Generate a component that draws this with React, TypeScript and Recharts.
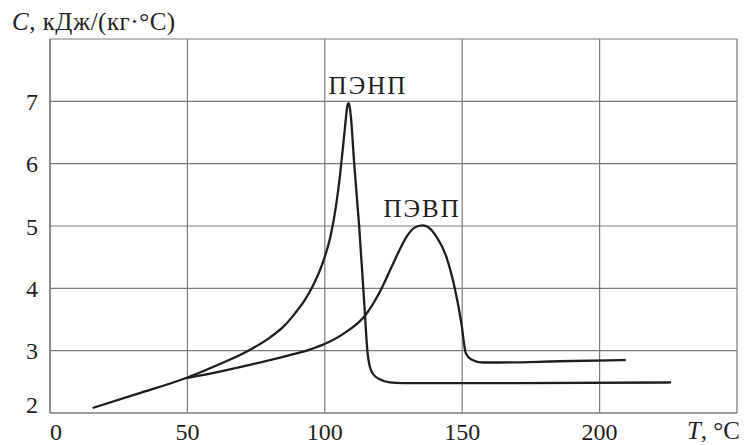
import React from 'react';
import { LineChart, Line, XAxis, YAxis, CartesianGrid, ReferenceDot, Label } from 'recharts';

// ПЭНП (LDPE)
const ldpeT = [15.5, 32, 50, 61, 73, 80, 85.5, 89, 92.7, 96, 99.4, 102, 104, 105.5, 106.7, 107.6, 108.1, 108.6, 109.1, 109.5, 110.7, 112.5, 114.3, 115.6, 116.3, 117.5, 120, 123.6, 128.5, 170, 226];
const ldpeC = [2.08, 2.31, 2.57, 2.77, 3.02, 3.21, 3.41, 3.59, 3.81, 4.07, 4.43, 4.82, 5.3, 5.8, 6.3, 6.7, 6.9, 6.97, 6.9, 6.75, 6.0, 5.0, 3.8, 2.95, 2.76, 2.63, 2.54, 2.49, 2.48, 2.48, 2.49];

// ПЭВП (HDPE)
const hdpeT = [49.7, 61.3, 73.4, 85.5, 94, 100.1, 107.4, 114.6, 120.1, 124.9, 129.8, 132.5, 135.6, 138.5, 140.6, 144.2, 147.3, 149.7, 151.3, 153.3, 157.6, 163.6, 185, 209.5];
const hdpeC = [2.56, 2.66, 2.78, 2.91, 3.01, 3.11, 3.29, 3.56, 3.95, 4.4, 4.83, 4.97, 5.01, 4.95, 4.83, 4.51, 4.0, 3.44, 2.96, 2.86, 2.81, 2.81, 2.83, 2.85];

const xTicks = [0, 50, 100, 150, 200, 250];
const yTicks = [2, 3, 4, 5, 6, 7, 8];

const seriesNames = ['ПЭНП', 'ПЭВП'];
const yTitle = 'кДж/(кг·°C)';
const xTitle = '°C';

const ldpeData = ldpeT.map((t, i) => ({ T: t, C: ldpeC[i] }));
const hdpeData = hdpeT.map((t, i) => ({ T: t, C: hdpeC[i] }));

const FONT = "'Liberation Serif', 'Times New Roman', serif";
const FS = 24;
const INK = '#1e1e1e';
const GRID = '#7a7a7a';
const textStyle = { fontFamily: FONT, fontSize: FS };

const XTick = (props: any) => {
  const { x, y, payload } = props;
  const v = payload.value;
  if (v === 250) {
    return (
      <text x={x + 3} y={y + 26} textAnchor="end" style={{ ...textStyle, fontSize: 25 }} fill={INK}>
        <tspan fontStyle="italic">T</tspan>
        <tspan>{', ' + xTitle}</tspan>
      </text>
    );
  }
  return (
    <text x={v === 0 ? x + 6 : x} y={y + 27} textAnchor="middle" style={textStyle} fill={INK}>
      {v}
    </text>
  );
};

const YTick = (props: any) => {
  const { x, y, payload } = props;
  const v = payload.value;
  if (v === 8) return <g />;
  return (
    <text x={x - 12} y={v === 2 ? y : y + 8.5} textAnchor="end" style={textStyle} fill={INK}>
      {v}
    </text>
  );
};

const TitleLabel = () => (
  <text x={12} y={30} textAnchor="start" style={{ ...textStyle, fontSize: 25, letterSpacing: 0.5 }} fill={INK}>
    <tspan fontStyle="italic">C</tspan>
    <tspan>{', ' + yTitle}</tspan>
  </text>
);

const SeriesLabel = (props: any) => {
  const { viewBox, value } = props;
  const cx = viewBox ? viewBox.x + (viewBox.width || 0) / 2 : 0;
  const cy = viewBox ? viewBox.y + (viewBox.height || 0) / 2 : 0;
  return (
    <text x={cx} y={cy + 8} textAnchor="middle" style={{ ...textStyle, fontSize: 25, letterSpacing: 2 }} fill={INK}>
      {value}
    </text>
  );
};

export default function App() {
  return (
    <div style={{ position: 'absolute', left: 0, top: 0, width: 747, height: 445, background: '#fff', fontFamily: FONT }}>
      <LineChart
        width={747}
        height={445}
        margin={{ top: 39, right: 10, bottom: 0, left: 0 }}
      >
        <CartesianGrid stroke={GRID} strokeWidth={1.2} />
        <XAxis
          type="number"
          dataKey="T"
          domain={[0, 250]}
          ticks={xTicks}
          interval={0}
          allowDataOverflow
          height={32}
          tickSize={0}
          tickMargin={0}
          tickLine={false}
          axisLine={{ stroke: GRID, strokeWidth: 1.2 }}
          tick={<XTick />}
        />
        <YAxis
          type="number"
          dataKey="C"
          domain={[2, 8]}
          ticks={yTicks}
          interval={0}
          allowDataOverflow
          width={50}
          tickSize={0}
          tickMargin={0}
          tickLine={false}
          axisLine={{ stroke: GRID, strokeWidth: 1.2 }}
          tick={<YTick />}
          label={<TitleLabel />}
        />
        <Line
          data={ldpeData}
          dataKey="C"
          type="monotone"
          stroke={INK}
          strokeWidth={2.3}
          dot={false}
          activeDot={false}
          isAnimationActive={false}
        />
        <Line
          data={hdpeData}
          dataKey="C"
          type="monotone"
          stroke={INK}
          strokeWidth={2.3}
          dot={false}
          activeDot={false}
          isAnimationActive={false}
        />
        <ReferenceDot x={115.7} y={7.24} r={0} stroke="none" fill="none">
          <Label value={seriesNames[0]} content={<SeriesLabel />} />
        </ReferenceDot>
        <ReferenceDot x={135.4} y={5.27} r={0} stroke="none" fill="none">
          <Label value={seriesNames[1]} content={<SeriesLabel />} />
        </ReferenceDot>
      </LineChart>
    </div>
  );
}
